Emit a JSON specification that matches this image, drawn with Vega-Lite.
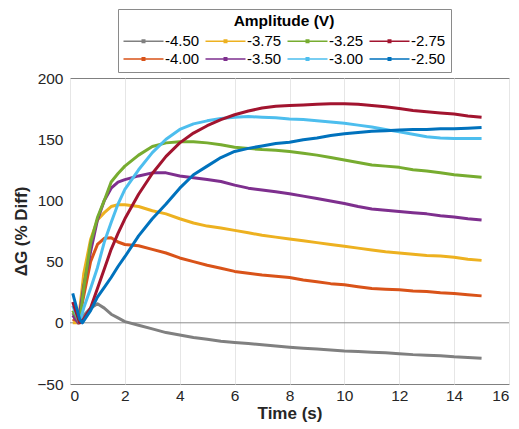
{
  "$schema": "https://vega.github.io/schema/vega-lite/v6.json",
  "width": 439,
  "height": 306,
  "autosize": "none",
  "padding": {"left": 70, "top": 78, "right": 10, "bottom": 45},
  "background": "white",
  "config": {
    "font": "Liberation Sans",
    "view": {"stroke": "#808080", "strokeWidth": 1},
    "axis": {
      "labelFontSize": 15.5,
      "labelColor": "#262626",
      "titleFontSize": 17,
      "titleFontWeight": "bold",
      "titleColor": "#262626",
      "gridColor": "#e6e6e6",
      "domain": false,
      "ticks": false
    }
  },
  "datasets": {
    "d": [
      {"a": "-4.50", "t": 0.1, "v": 8}, {"a": "-4.50", "t": 0.3, "v": 0}, {"a": "-4.50", "t": 0.5, "v": 6}, {"a": "-4.50", "t": 0.75, "v": 12}, {"a": "-4.50", "t": 1, "v": 15.5}, {"a": "-4.50", "t": 1.25, "v": 12}, {"a": "-4.50", "t": 1.5, "v": 7}, {"a": "-4.50", "t": 1.75, "v": 4}, {"a": "-4.50", "t": 2, "v": 1}, {"a": "-4.50", "t": 2.5, "v": -2}, {"a": "-4.50", "t": 3, "v": -5}, {"a": "-4.50", "t": 3.5, "v": -8}, {"a": "-4.50", "t": 4, "v": -10}, {"a": "-4.50", "t": 4.5, "v": -12}, {"a": "-4.50", "t": 5, "v": -13.5}, {"a": "-4.50", "t": 5.5, "v": -15}, {"a": "-4.50", "t": 6, "v": -16}, {"a": "-4.50", "t": 6.5, "v": -17}, {"a": "-4.50", "t": 7, "v": -18}, {"a": "-4.50", "t": 7.5, "v": -19}, {"a": "-4.50", "t": 8, "v": -20}, {"a": "-4.50", "t": 8.5, "v": -20.8}, {"a": "-4.50", "t": 9, "v": -21.5}, {"a": "-4.50", "t": 9.5, "v": -22.2}, {"a": "-4.50", "t": 10, "v": -23}, {"a": "-4.50", "t": 10.5, "v": -23.5}, {"a": "-4.50", "t": 11, "v": -24}, {"a": "-4.50", "t": 11.5, "v": -24.5}, {"a": "-4.50", "t": 12, "v": -25.2}, {"a": "-4.50", "t": 12.5, "v": -26}, {"a": "-4.50", "t": 13, "v": -26.5}, {"a": "-4.50", "t": 13.5, "v": -27}, {"a": "-4.50", "t": 14, "v": -27.8}, {"a": "-4.50", "t": 14.5, "v": -28.3}, {"a": "-4.50", "t": 15, "v": -29},

      {"a": "-4.00", "t": 0.1, "v": 3}, {"a": "-4.00", "t": 0.3, "v": 0}, {"a": "-4.00", "t": 0.5, "v": 22}, {"a": "-4.00", "t": 0.75, "v": 50}, {"a": "-4.00", "t": 1, "v": 64}, {"a": "-4.00", "t": 1.25, "v": 69}, {"a": "-4.00", "t": 1.5, "v": 69.5}, {"a": "-4.00", "t": 1.75, "v": 66}, {"a": "-4.00", "t": 2, "v": 64}, {"a": "-4.00", "t": 2.5, "v": 63}, {"a": "-4.00", "t": 3, "v": 60}, {"a": "-4.00", "t": 3.5, "v": 57}, {"a": "-4.00", "t": 4, "v": 53}, {"a": "-4.00", "t": 4.5, "v": 50}, {"a": "-4.00", "t": 5, "v": 47}, {"a": "-4.00", "t": 5.5, "v": 44.5}, {"a": "-4.00", "t": 6, "v": 42}, {"a": "-4.00", "t": 6.5, "v": 40.5}, {"a": "-4.00", "t": 7, "v": 39}, {"a": "-4.00", "t": 7.5, "v": 38}, {"a": "-4.00", "t": 8, "v": 37}, {"a": "-4.00", "t": 8.5, "v": 35}, {"a": "-4.00", "t": 9, "v": 33.5}, {"a": "-4.00", "t": 9.5, "v": 32}, {"a": "-4.00", "t": 10, "v": 31}, {"a": "-4.00", "t": 10.5, "v": 29.5}, {"a": "-4.00", "t": 11, "v": 28}, {"a": "-4.00", "t": 11.5, "v": 27.5}, {"a": "-4.00", "t": 12, "v": 27}, {"a": "-4.00", "t": 12.5, "v": 26}, {"a": "-4.00", "t": 13, "v": 25.5}, {"a": "-4.00", "t": 13.5, "v": 24.5}, {"a": "-4.00", "t": 14, "v": 24}, {"a": "-4.00", "t": 14.5, "v": 23}, {"a": "-4.00", "t": 15, "v": 22},

      {"a": "-3.75", "t": 0.1, "v": 0}, {"a": "-3.75", "t": 0.3, "v": 0}, {"a": "-3.75", "t": 0.5, "v": 40}, {"a": "-3.75", "t": 0.75, "v": 68}, {"a": "-3.75", "t": 1, "v": 84}, {"a": "-3.75", "t": 1.25, "v": 90}, {"a": "-3.75", "t": 1.5, "v": 95}, {"a": "-3.75", "t": 1.75, "v": 96.5}, {"a": "-3.75", "t": 2, "v": 96.5}, {"a": "-3.75", "t": 2.5, "v": 95}, {"a": "-3.75", "t": 3, "v": 91.5}, {"a": "-3.75", "t": 3.5, "v": 89}, {"a": "-3.75", "t": 4, "v": 85}, {"a": "-3.75", "t": 4.5, "v": 81.5}, {"a": "-3.75", "t": 5, "v": 79}, {"a": "-3.75", "t": 5.5, "v": 77.5}, {"a": "-3.75", "t": 6, "v": 75.5}, {"a": "-3.75", "t": 6.5, "v": 73.5}, {"a": "-3.75", "t": 7, "v": 71.5}, {"a": "-3.75", "t": 7.5, "v": 70}, {"a": "-3.75", "t": 8, "v": 68.5}, {"a": "-3.75", "t": 8.5, "v": 67}, {"a": "-3.75", "t": 9, "v": 65.5}, {"a": "-3.75", "t": 9.5, "v": 64}, {"a": "-3.75", "t": 10, "v": 62.5}, {"a": "-3.75", "t": 10.5, "v": 61}, {"a": "-3.75", "t": 11, "v": 59.5}, {"a": "-3.75", "t": 11.5, "v": 58}, {"a": "-3.75", "t": 12, "v": 57}, {"a": "-3.75", "t": 12.5, "v": 56}, {"a": "-3.75", "t": 13, "v": 55}, {"a": "-3.75", "t": 13.5, "v": 54.5}, {"a": "-3.75", "t": 14, "v": 53.5}, {"a": "-3.75", "t": 14.5, "v": 52}, {"a": "-3.75", "t": 15, "v": 51},

      {"a": "-3.50", "t": 0.1, "v": 6}, {"a": "-3.50", "t": 0.3, "v": 0}, {"a": "-3.50", "t": 0.5, "v": 30}, {"a": "-3.50", "t": 0.75, "v": 58}, {"a": "-3.50", "t": 1, "v": 84}, {"a": "-3.50", "t": 1.25, "v": 100}, {"a": "-3.50", "t": 1.5, "v": 110}, {"a": "-3.50", "t": 1.75, "v": 115}, {"a": "-3.50", "t": 2, "v": 117}, {"a": "-3.50", "t": 2.5, "v": 120}, {"a": "-3.50", "t": 3, "v": 122.5}, {"a": "-3.50", "t": 3.5, "v": 122.5}, {"a": "-3.50", "t": 4, "v": 120}, {"a": "-3.50", "t": 4.5, "v": 118.5}, {"a": "-3.50", "t": 5, "v": 117}, {"a": "-3.50", "t": 5.5, "v": 115.5}, {"a": "-3.50", "t": 6, "v": 112.5}, {"a": "-3.50", "t": 6.5, "v": 110}, {"a": "-3.50", "t": 7, "v": 108.5}, {"a": "-3.50", "t": 7.5, "v": 107}, {"a": "-3.50", "t": 8, "v": 105.5}, {"a": "-3.50", "t": 8.5, "v": 103.5}, {"a": "-3.50", "t": 9, "v": 101.5}, {"a": "-3.50", "t": 9.5, "v": 99.5}, {"a": "-3.50", "t": 10, "v": 97.5}, {"a": "-3.50", "t": 10.5, "v": 95}, {"a": "-3.50", "t": 11, "v": 93}, {"a": "-3.50", "t": 11.5, "v": 92}, {"a": "-3.50", "t": 12, "v": 91}, {"a": "-3.50", "t": 12.5, "v": 90}, {"a": "-3.50", "t": 13, "v": 89}, {"a": "-3.50", "t": 13.5, "v": 87.5}, {"a": "-3.50", "t": 14, "v": 86.5}, {"a": "-3.50", "t": 14.5, "v": 85}, {"a": "-3.50", "t": 15, "v": 84},

      {"a": "-3.25", "t": 0.1, "v": 10}, {"a": "-3.25", "t": 0.35, "v": 0}, {"a": "-3.25", "t": 0.5, "v": 28}, {"a": "-3.25", "t": 0.75, "v": 65}, {"a": "-3.25", "t": 1, "v": 86}, {"a": "-3.25", "t": 1.25, "v": 100}, {"a": "-3.25", "t": 1.5, "v": 115}, {"a": "-3.25", "t": 1.75, "v": 122}, {"a": "-3.25", "t": 2, "v": 128}, {"a": "-3.25", "t": 2.5, "v": 137}, {"a": "-3.25", "t": 3, "v": 144}, {"a": "-3.25", "t": 3.5, "v": 147}, {"a": "-3.25", "t": 4, "v": 148}, {"a": "-3.25", "t": 4.5, "v": 148}, {"a": "-3.25", "t": 5, "v": 147}, {"a": "-3.25", "t": 5.5, "v": 145.5}, {"a": "-3.25", "t": 6, "v": 143.5}, {"a": "-3.25", "t": 6.5, "v": 142.5}, {"a": "-3.25", "t": 7, "v": 141.5}, {"a": "-3.25", "t": 7.5, "v": 141}, {"a": "-3.25", "t": 8, "v": 140}, {"a": "-3.25", "t": 8.5, "v": 138.5}, {"a": "-3.25", "t": 9, "v": 137}, {"a": "-3.25", "t": 9.5, "v": 135}, {"a": "-3.25", "t": 10, "v": 133}, {"a": "-3.25", "t": 10.5, "v": 131}, {"a": "-3.25", "t": 11, "v": 129}, {"a": "-3.25", "t": 11.5, "v": 128}, {"a": "-3.25", "t": 12, "v": 127}, {"a": "-3.25", "t": 12.5, "v": 125}, {"a": "-3.25", "t": 13, "v": 124}, {"a": "-3.25", "t": 13.5, "v": 122.5}, {"a": "-3.25", "t": 14, "v": 121}, {"a": "-3.25", "t": 14.5, "v": 120}, {"a": "-3.25", "t": 15, "v": 119},

      {"a": "-3.00", "t": 0.1, "v": 14}, {"a": "-3.00", "t": 0.35, "v": 0}, {"a": "-3.00", "t": 0.5, "v": 12}, {"a": "-3.00", "t": 0.75, "v": 28}, {"a": "-3.00", "t": 1, "v": 45}, {"a": "-3.00", "t": 1.25, "v": 66}, {"a": "-3.00", "t": 1.5, "v": 82}, {"a": "-3.00", "t": 1.75, "v": 97}, {"a": "-3.00", "t": 2, "v": 109}, {"a": "-3.00", "t": 2.5, "v": 125}, {"a": "-3.00", "t": 3, "v": 139}, {"a": "-3.00", "t": 3.5, "v": 150}, {"a": "-3.00", "t": 4, "v": 158}, {"a": "-3.00", "t": 4.5, "v": 162.5}, {"a": "-3.00", "t": 5, "v": 165}, {"a": "-3.00", "t": 5.5, "v": 167}, {"a": "-3.00", "t": 6, "v": 168}, {"a": "-3.00", "t": 6.5, "v": 168.5}, {"a": "-3.00", "t": 7, "v": 168}, {"a": "-3.00", "t": 7.5, "v": 167.5}, {"a": "-3.00", "t": 8, "v": 166.5}, {"a": "-3.00", "t": 8.5, "v": 166}, {"a": "-3.00", "t": 9, "v": 165}, {"a": "-3.00", "t": 9.5, "v": 164}, {"a": "-3.00", "t": 10, "v": 163}, {"a": "-3.00", "t": 10.5, "v": 161.5}, {"a": "-3.00", "t": 11, "v": 160}, {"a": "-3.00", "t": 11.5, "v": 158}, {"a": "-3.00", "t": 12, "v": 156}, {"a": "-3.00", "t": 12.5, "v": 154}, {"a": "-3.00", "t": 13, "v": 152}, {"a": "-3.00", "t": 13.5, "v": 151}, {"a": "-3.00", "t": 14, "v": 150.5}, {"a": "-3.00", "t": 14.5, "v": 150.5}, {"a": "-3.00", "t": 15, "v": 150.5},

      {"a": "-2.75", "t": 0.1, "v": 17}, {"a": "-2.75", "t": 0.35, "v": 0}, {"a": "-2.75", "t": 0.5, "v": 3}, {"a": "-2.75", "t": 0.75, "v": 12}, {"a": "-2.75", "t": 1, "v": 28}, {"a": "-2.75", "t": 1.25, "v": 44}, {"a": "-2.75", "t": 1.5, "v": 60}, {"a": "-2.75", "t": 1.75, "v": 73}, {"a": "-2.75", "t": 2, "v": 85}, {"a": "-2.75", "t": 2.5, "v": 105}, {"a": "-2.75", "t": 3, "v": 122}, {"a": "-2.75", "t": 3.5, "v": 136}, {"a": "-2.75", "t": 4, "v": 147}, {"a": "-2.75", "t": 4.5, "v": 155}, {"a": "-2.75", "t": 5, "v": 161}, {"a": "-2.75", "t": 5.5, "v": 166}, {"a": "-2.75", "t": 6, "v": 170}, {"a": "-2.75", "t": 6.5, "v": 173}, {"a": "-2.75", "t": 7, "v": 175.5}, {"a": "-2.75", "t": 7.5, "v": 177}, {"a": "-2.75", "t": 8, "v": 177.5}, {"a": "-2.75", "t": 8.5, "v": 178}, {"a": "-2.75", "t": 9, "v": 178.5}, {"a": "-2.75", "t": 9.5, "v": 179}, {"a": "-2.75", "t": 10, "v": 179}, {"a": "-2.75", "t": 10.5, "v": 178.5}, {"a": "-2.75", "t": 11, "v": 177.5}, {"a": "-2.75", "t": 11.5, "v": 176.5}, {"a": "-2.75", "t": 12, "v": 175}, {"a": "-2.75", "t": 12.5, "v": 173.5}, {"a": "-2.75", "t": 13, "v": 172.5}, {"a": "-2.75", "t": 13.5, "v": 171.5}, {"a": "-2.75", "t": 14, "v": 170.5}, {"a": "-2.75", "t": 14.5, "v": 169}, {"a": "-2.75", "t": 15, "v": 168},

      {"a": "-2.50", "t": 0.1, "v": 24}, {"a": "-2.50", "t": 0.35, "v": 3}, {"a": "-2.50", "t": 0.45, "v": 0}, {"a": "-2.50", "t": 0.75, "v": 10}, {"a": "-2.50", "t": 1, "v": 21}, {"a": "-2.50", "t": 1.25, "v": 29}, {"a": "-2.50", "t": 1.5, "v": 37}, {"a": "-2.50", "t": 1.75, "v": 46}, {"a": "-2.50", "t": 2, "v": 54}, {"a": "-2.50", "t": 2.5, "v": 71}, {"a": "-2.50", "t": 3, "v": 85}, {"a": "-2.50", "t": 3.5, "v": 97}, {"a": "-2.50", "t": 4, "v": 110}, {"a": "-2.50", "t": 4.5, "v": 121}, {"a": "-2.50", "t": 5, "v": 128}, {"a": "-2.50", "t": 5.5, "v": 135}, {"a": "-2.50", "t": 6, "v": 140}, {"a": "-2.50", "t": 6.5, "v": 142.5}, {"a": "-2.50", "t": 7, "v": 144.5}, {"a": "-2.50", "t": 7.5, "v": 146.5}, {"a": "-2.50", "t": 8, "v": 147.5}, {"a": "-2.50", "t": 8.5, "v": 149.5}, {"a": "-2.50", "t": 9, "v": 151}, {"a": "-2.50", "t": 9.5, "v": 153}, {"a": "-2.50", "t": 10, "v": 154.5}, {"a": "-2.50", "t": 10.5, "v": 155.5}, {"a": "-2.50", "t": 11, "v": 156.5}, {"a": "-2.50", "t": 11.5, "v": 157}, {"a": "-2.50", "t": 12, "v": 157.5}, {"a": "-2.50", "t": 12.5, "v": 158}, {"a": "-2.50", "t": 13, "v": 158}, {"a": "-2.50", "t": 13.5, "v": 158.5}, {"a": "-2.50", "t": 14, "v": 158.5}, {"a": "-2.50", "t": 14.5, "v": 159}, {"a": "-2.50", "t": 15, "v": 159.5}
    ]
  },
  "layer": [
    {
      "data": {"values": [{}]},
      "mark": {"type": "rule", "color": "#8c8c8c", "strokeWidth": 1},
      "encoding": {"y": {"datum": 0, "type": "quantitative"}}
    },
    {
      "data": {"name": "d"},
      "mark": {"type": "line", "strokeWidth": 3, "strokeJoin": "round"},
      "encoding": {
        "x": {
          "field": "t", "type": "quantitative",
          "scale": {"domain": [0, 16], "nice": false, "zero": false},
          "axis": {"values": [0, 2, 4, 6, 8, 10, 12, 14, 16], "title": "Time (s)", "labelPadding": 4, "titlePadding": 2}
        },
        "y": {
          "field": "v", "type": "quantitative",
          "scale": {"domain": [-50, 200], "nice": false, "zero": false},
          "axis": {"values": [-50, 0, 50, 100, 150, 200], "title": "ΔG (% Diff)", "labelPadding": 7, "titlePadding": 6}
        },
        "color": {
          "field": "a", "type": "nominal",
          "scale": {
            "domain": ["-4.50", "-3.75", "-3.25", "-2.75", "-4.00", "-3.50", "-3.00", "-2.50"],
            "range": ["#808080", "#EDB120", "#77AC30", "#A2142F", "#D95319", "#7E2F8E", "#4DBEEE", "#0072BD"]
          },
          "legend": {
            "title": "Amplitude (V)",
            "orient": "none",
            "legendX": 48,
            "legendY": -69,
            "direction": "horizontal",
            "columns": 4,
            "symbolType": "M-4,0H4M-0.25,-0.25H0.25V0.25H-0.25Z",
            "symbolSize": 100,
            "symbolOffset": 13,
            "symbolStrokeWidth": 1.5,
            "labelFontSize": 15,
            "labelColor": "#000000",
            "labelOffset": 14,
            "labelLimit": 100,
            "titleFontSize": 15.5,
            "titleFontWeight": "bold",
            "titleColor": "#000000",
            "titleAnchor": "middle",
            "titlePadding": 4,
            "fillColor": "white",
            "strokeColor": "#8a8a8a",
            "padding": 5,
            "columnPadding": 2,
            "rowPadding": 2
          }
        }
      }
    }
  ]
}
